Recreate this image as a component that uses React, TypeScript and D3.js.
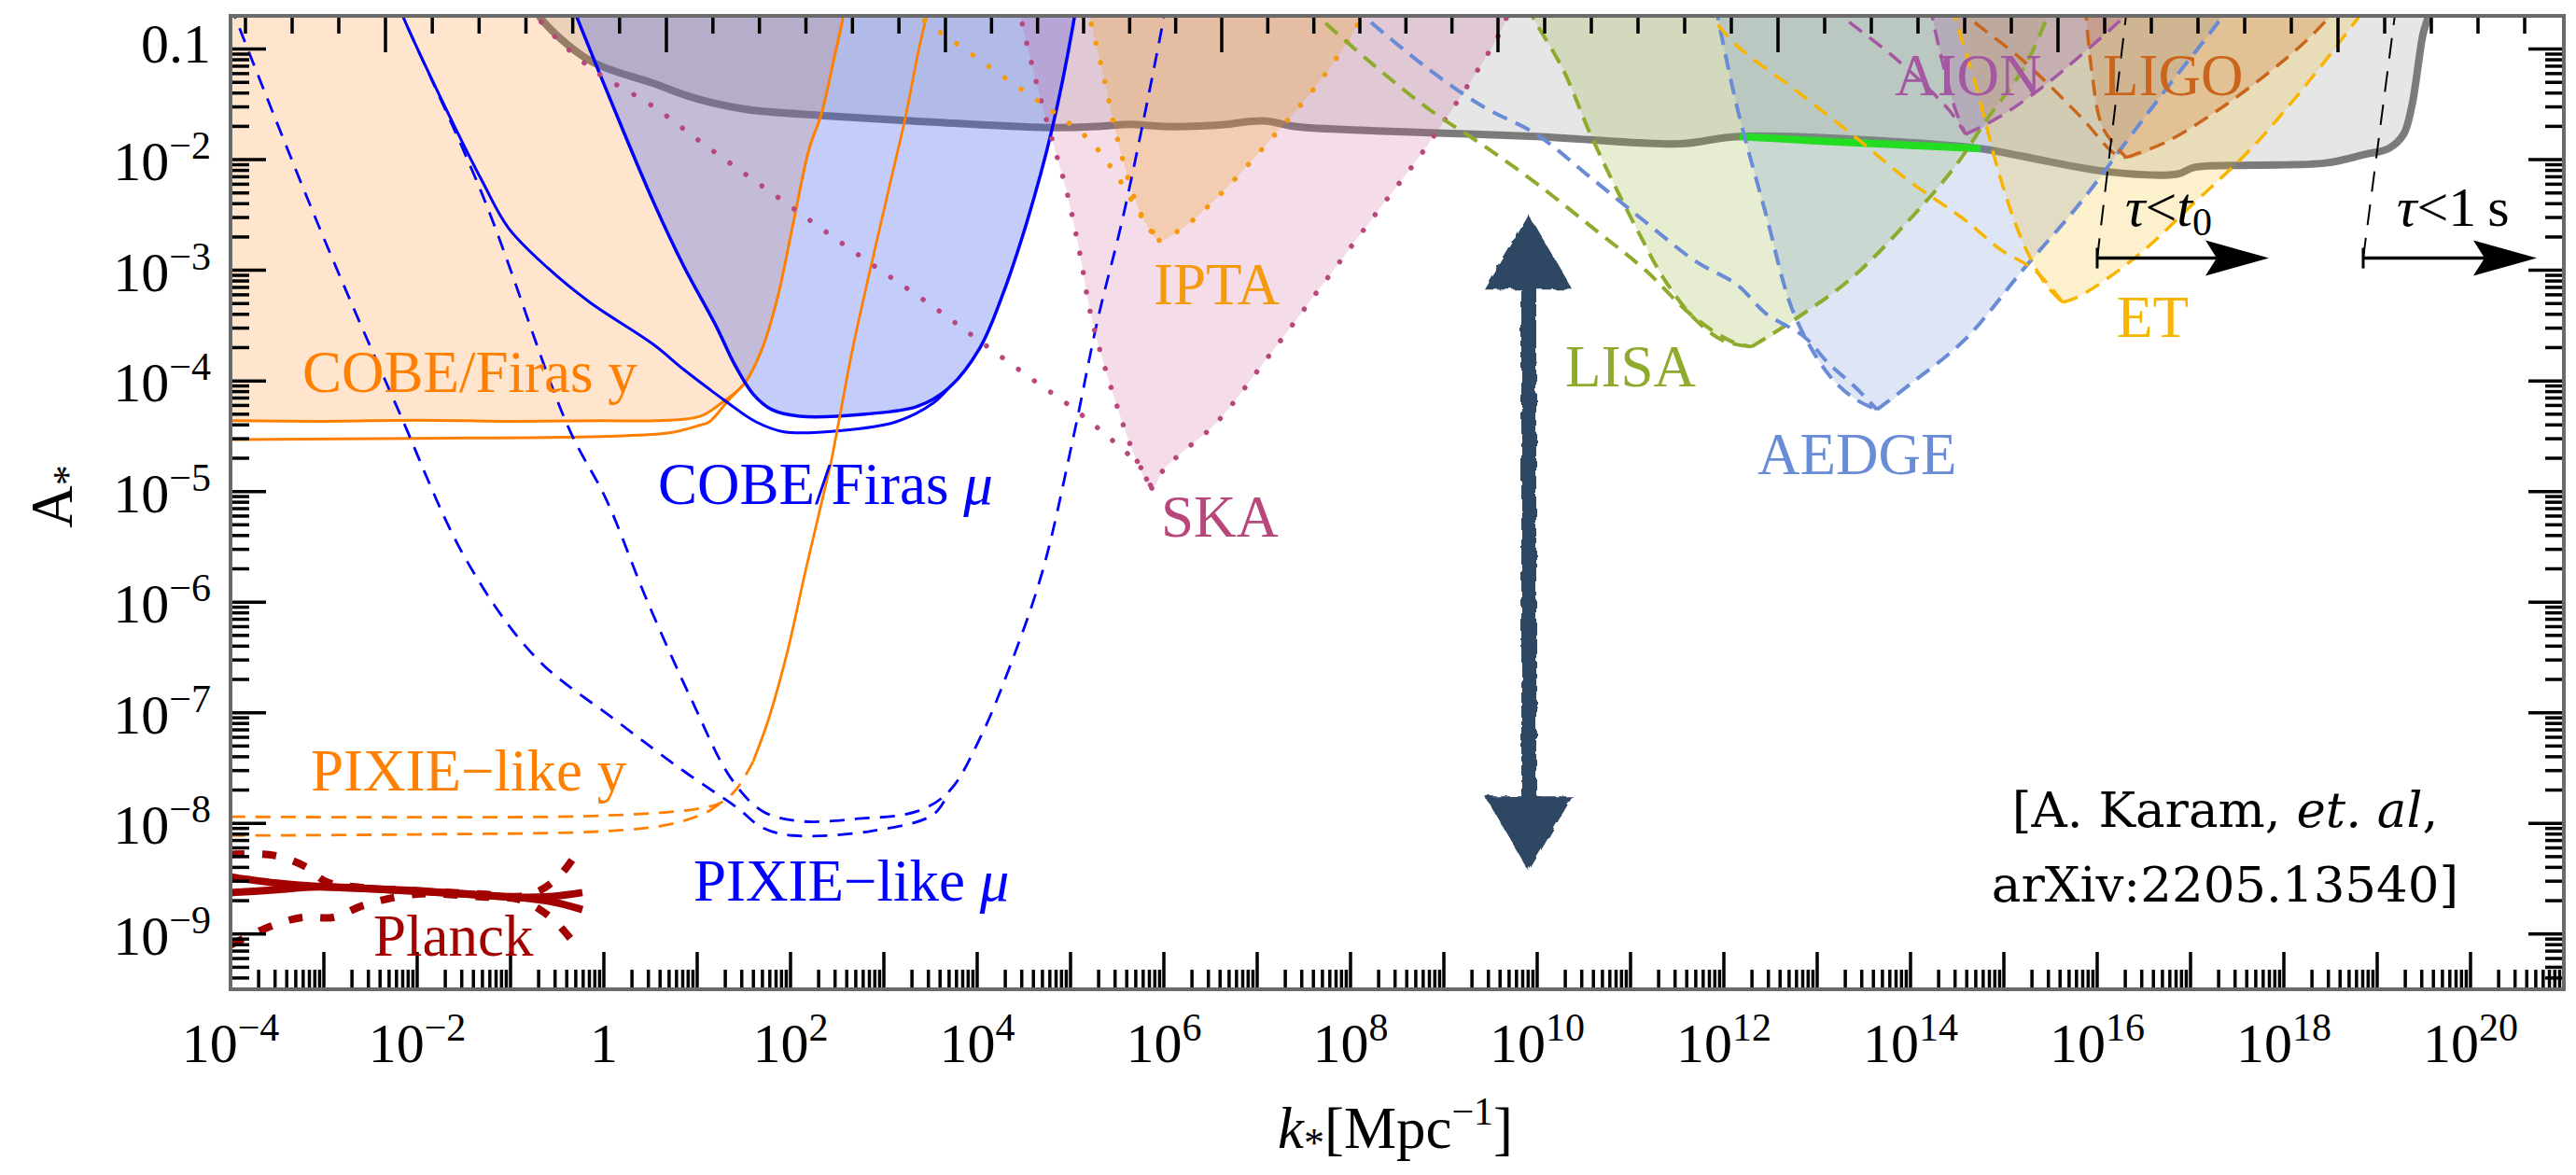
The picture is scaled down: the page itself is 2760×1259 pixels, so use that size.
import React from 'react';
import * as d3 from 'd3';

type P = [number, number];

// all curves are [log10 k, log10 A] pairs

const grayBound: P[] = [[-0.72, -0.6], [-0.70, -0.69], [-0.16, -1.10], [0.53, -1.31], [1.0, -1.45], [1.53, -1.546], [2.33, -1.60], [3.2, -1.645], [4.77, -1.71], [5.3, -1.70], [5.63, -1.68], [6.0, -1.70], [6.55, -1.69], [7.07, -1.65], [7.4, -1.70], [8.27, -1.74], [9.99, -1.79], [11.53, -1.856], [12.17, -1.79], [14.75, -1.90], [15.2, -1.97], [16.12, -2.11], [16.86, -2.13], [17.04, -2.07], [17.65, -2.05], [18.45, -2.03], [18.88, -1.95], [19.12, -1.90], [19.28, -1.775], [19.37, -1.52], [19.49, -0.87], [19.55, -0.69], [19.56, -0.6]];
const greenBound: P[] = [[12.17, -1.79], [13.0, -1.83], [14.0, -1.87], [14.75, -1.90]];

const cobeYUpper: P[] = [[-4, -4.36], [-3, -4.365], [-2, -4.355], [-1, -4.365], [0, -4.36], [0.53, -4.36], [1.03, -4.32], [1.26, -4.20], [1.50, -4.03], [1.70, -3.70], [1.86, -3.25], [2.03, -2.57], [2.20, -1.90], [2.33, -1.59], [2.46, -1.11], [2.56, -0.72], [2.58, -0.6]];
const cobeYLower: P[] = [[-4, -4.53], [-2, -4.52], [0.03, -4.50], [0.70, -4.47], [1.03, -4.40], [1.13, -4.37], [1.33, -4.18], [1.50, -4.03]];

const cobeMuU: P[] = [[-0.34, -0.6], [-0.30, -0.69], [0.1, -1.52], [0.53, -2.38], [0.86, -2.97], [1.20, -3.50], [1.40, -3.85], [1.60, -4.12], [1.80, -4.26], [2.10, -4.32], [2.80, -4.30], [3.36, -4.23], [3.70, -4.06], [4.03, -3.70], [4.26, -3.25], [4.53, -2.57], [4.80, -1.73], [5.03, -0.77], [5.06, -0.6]];
const cobeMuLower: P[] = [[-2.2, -0.6], [-2.16, -0.69], [-1.76, -1.42], [-1.30, -2.20], [-1.02, -2.62], [-0.60, -2.98], [-0.15, -3.29], [0.53, -3.67], [0.86, -3.90], [1.30, -4.18], [1.63, -4.37], [1.93, -4.46], [2.53, -4.45], [3.13, -4.37], [3.53, -4.20], [3.72, -4.04]];

const pixieMuA: P[] = [[-2.2, -0.6], [-2.16, -0.69], [-1.30, -2.32], [-0.38, -4.42], [0.03, -5.08], [0.46, -5.98], [0.96, -6.92], [1.36, -7.59], [1.70, -7.89], [2.10, -7.98], [2.70, -7.96], [3.36, -7.89], [3.70, -7.71], [4.03, -7.23], [4.36, -6.56], [4.70, -5.72], [5.03, -4.51], [5.29, -3.45], [5.57, -2.49], [6.0, -0.71], [6.02, -0.6]];
const pixieMuB: P[] = [[-4.0, -0.6], [-3.96, -0.69], [-3.03, -2.65], [-2.22, -4.23], [-1.48, -5.61], [-0.73, -6.50], [0.13, -7.07], [0.86, -7.53], [1.43, -7.86], [1.70, -8.04], [2.03, -8.11], [2.86, -8.07], [3.53, -7.92], [3.70, -7.71]];

const pixieYUpper: P[] = [[-4, -7.94], [-2, -7.945], [0, -7.93], [0.99, -7.87], [1.26, -7.81], [1.43, -7.68], [1.60, -7.44]];
const pixieYRise: P[] = [[1.60, -7.44], [1.76, -7.07], [1.96, -6.47], [2.16, -5.72], [2.33, -5.11], [2.43, -4.75], [2.53, -4.31], [2.66, -3.73], [2.86, -2.97], [3.06, -2.24], [3.23, -1.62], [3.38, -0.98], [3.46, -0.69], [3.48, -0.6]];
const pixieYLower: P[] = [[-4, -8.11], [-2, -8.10], [0.03, -8.07], [0.70, -8.01], [1.10, -7.90], [1.26, -7.81]];

const planckA: P[] = [[-4, -8.485], [-3.5, -8.54], [-3.07, -8.57], [-2, -8.61], [-0.90, -8.668], [-0.55, -8.66], [-0.23, -8.626]];
const planckB: P[] = [[-4, -8.626], [-3.5, -8.60], [-3.07, -8.575], [-2, -8.615], [-0.90, -8.672], [-0.55, -8.71], [-0.23, -8.78]];
const planckDashU: P[] = [[-4, -8.28], [-3.53, -8.29], [-3.20, -8.39], [-2.97, -8.53], [-2.6, -8.58], [-2, -8.61], [-1.3, -8.64], [-0.90, -8.66], [-0.67, -8.60], [-0.45, -8.45], [-0.27, -8.24]];
const planckDashN: P[] = [[-4, -9.10], [-3.57, -8.93], [-3.23, -8.85], [-2.90, -8.85], [-2.57, -8.74], [-2, -8.64], [-1.3, -8.665], [-0.90, -8.69], [-0.57, -8.85], [-0.30, -9.10], [-0.25, -9.15]];

const skaShallow: P[] = [[-0.76, -0.6], [-0.73, -0.69], [-0.16, -1.16], [0.53, -1.52], [1.07, -1.86], [1.83, -2.32], [2.76, -2.88], [3.53, -3.33], [4.06, -3.66], [4.63, -4.01], [5.0, -4.23], [5.34, -4.46], [5.75, -4.78], [5.87, -4.97]];
const skaSteep: P[] = [[4.44, -0.6], [4.46, -0.69], [4.66, -1.39], [4.83, -1.90], [4.96, -2.29], [5.10, -2.85], [5.23, -3.45], [5.51, -4.26], [5.70, -4.70], [5.87, -4.97]];
const skaRight: P[] = [[5.87, -4.97], [6.0, -4.80], [6.19, -4.65], [6.55, -4.39], [7.12, -3.78], [7.70, -3.13], [8.27, -2.49], [8.85, -1.84], [9.59, -0.87], [9.68, -0.69], [9.70, -0.6]];

const iptaShallow: P[] = [[3.32, -0.6], [3.37, -0.69], [3.93, -1.04], [4.50, -1.38], [4.87, -1.60], [5.20, -1.82], [5.50, -2.15], [5.75, -2.50], [5.95, -2.73]];
const iptaSteep: P[] = [[5.18, -0.6], [5.20, -0.69], [5.34, -1.19], [5.51, -1.84], [5.69, -2.36], [5.83, -2.61], [5.95, -2.73]];
const iptaRight: P[] = [[5.95, -2.73], [6.20, -2.62], [6.55, -2.36], [7.12, -1.84], [7.70, -1.26], [8.10, -0.74], [8.16, -0.6]];

const lisaShallow: P[] = [[7.55, -0.6], [7.64, -0.69], [8.27, -1.16], [8.85, -1.55], [9.42, -1.87], [10.0, -2.22], [10.63, -2.64], [11.16, -3.0], [11.66, -3.41], [12.10, -3.65], [12.30, -3.69]];
const lisaSteep: P[] = [[9.90, -0.6], [9.94, -0.69], [10.28, -1.19], [10.57, -1.77], [10.84, -2.25], [11.10, -2.68], [11.36, -3.08], [11.70, -3.45], [12.0, -3.64], [12.30, -3.69]];
const lisaRight: P[] = [[12.30, -3.69], [12.75, -3.45], [13.37, -3.07], [13.98, -2.55], [14.47, -2.07], [14.84, -1.61], [15.2, -1.19], [15.45, -0.74], [15.5, -0.6]];

const aedgeShallow: P[] = [[8.03, -0.6], [8.13, -0.69], [8.85, -1.19], [9.42, -1.52], [9.99, -1.77], [10.57, -2.16], [11.14, -2.55], [11.70, -2.92], [12.14, -3.13], [12.45, -3.39], [12.86, -3.60], [13.12, -3.84], [13.40, -4.05], [13.64, -4.26]];
const aedgeSteep: P[] = [[11.91, -0.6], [11.93, -0.69], [12.14, -1.52], [12.45, -2.49], [12.75, -3.39], [13.12, -3.94], [13.40, -4.16], [13.64, -4.26]];
const aedgeRight: P[] = [[13.64, -4.26], [13.98, -4.04], [14.59, -3.62], [15.2, -3.0], [15.82, -2.39], [16.31, -1.84], [16.74, -1.36], [17.35, -0.69], [17.4, -0.6]];

const etShallow: P[] = [[11.77, -0.6], [11.85, -0.69], [12.14, -0.97], [12.75, -1.36], [13.37, -1.77], [13.98, -2.19], [14.59, -2.55], [14.96, -2.81], [15.33, -3.0], [15.63, -3.29]];
const etSteep: P[] = [[14.45, -0.6], [14.47, -0.69], [14.71, -1.36], [14.96, -2.16], [15.20, -2.74], [15.45, -3.13], [15.63, -3.29]];
const etRight: P[] = [[15.63, -3.29], [15.82, -3.23], [16.43, -2.87], [17.04, -2.39], [17.65, -1.90], [18.27, -1.29], [18.82, -0.69], [18.9, -0.6]];

const aionShallow: P[] = [[13.15, -0.6], [13.25, -0.69], [13.86, -1.10], [14.41, -1.55], [14.59, -1.77]];
const aionSteep: P[] = [[14.22, -0.6], [14.23, -0.69], [14.47, -1.52], [14.59, -1.77]];
const aionRight: P[] = [[14.59, -1.77], [14.96, -1.61], [15.45, -1.32], [15.82, -1.06], [16.31, -0.69], [16.4, -0.6]];

const ligoShallow: P[] = [[14.5, -0.6], [14.59, -0.69], [15.2, -1.10], [15.82, -1.61], [16.18, -1.94], [16.31, -1.98]];
const ligoSteep: P[] = [[15.87, -0.6], [15.88, -0.69], [15.94, -1.19], [16.06, -1.71], [16.31, -1.98]];
const ligoRight: P[] = [[16.31, -1.98], [16.74, -1.84], [17.35, -1.52], [17.96, -1.13], [18.27, -0.90], [18.51, -0.69], [18.6, -0.6]];

// lifetime markers: dashed guide from the top down to the arrow
const tauT0Guide: P[] = [[16.33, -0.6], [16.31, -0.69], [16.0, -2.89]];
const tau1sGuide: P[] = [[19.21, -0.6], [19.19, -0.69], [18.85, -2.89]];
const tauT0Arrow: P = [16.0, 17.84];
const tau1sArrow: P = [18.85, 20.71];
const tauArrowLevel = -2.89;

// double arrow (log k, top log A, bottom log A)
const bigArrow = { k: 9.91, top: -2.5, bottom: -8.43 };

// axis ticks
const yLabelPowers = [-9, -8, -7, -6, -5, -4, -3, -2, -1];
const xLabelPowers = [-4, -2, 0, 2, 4, 6, 8, 10, 12, 14, 16, 18, 20];
const topLongTicks = [-2.34, 0.67, 3.66, 6.62, 9.58, 12.58, 15.58, 18.58];

// label anchors: [log k, log A]
const labels = {
  cobeY: [-3.23, -4.10],
  cobeMu: [0.58, -5.11],
  pixieY: [-3.14, -7.70],
  pixieMu: [0.96, -8.70],
  planck: [-2.47, -9.20],
  ska: [5.97, -5.41],
  ipta: [5.89, -3.31],
  lisa: [10.30, -4.05],
  aedge: [12.36, -4.84],
  aion: [13.83, -1.42],
  ligo: [16.06, -1.42],
  et: [16.21, -3.60],
  tauT0: [16.30, -2.60],
  tau1s: [19.21, -2.60],
  cite: [17.37, -8.03],
};

const C = {
  orange: '#ff7f00',
  blue: '#0000ff',
  ska: '#b8477c',
  ipta: '#f59a0c',
  lisa: '#8eab2e',
  aedge: '#6a8bd6',
  et: '#f7b500',
  aion: '#a558a2',
  ligo: '#c9661c',
  planck: '#a30000',
  arrow: '#2f4662',
};

const SERIF = '"Liberation Serif", "Times New Roman", serif';

export default function App() {
  const x = d3.scaleLog().domain([1e-4, 1e21]).range([247, 2747]);
  const y = d3.scaleLog().domain([10 ** -9.5, 10 ** -0.7]).range([1060, 17]);
  const X = (v: number) => x(10 ** v);
  const Y = (v: number) => y(10 ** v);
  const line = d3.line<P>().x(d => X(d[0])).y(d => Y(d[1])).curve(d3.curveCatmullRom.alpha(0.5));
  const plain = d3.line<P>().x(d => X(d[0])).y(d => Y(d[1]));

  const vRegion = (left: P[], right: P[]) => line([...left, ...right.slice(1)]) + 'Z';

  const [x0, x1] = x.range();
  const [y0, y1] = [y.range()[1], y.range()[0]];

  const cobeYFill = `M${x0},${y0 - 5}L${x0},${Y(cobeYUpper[0][1])}` + line(cobeYUpper)!.replace(/^M/, 'L') + 'Z';

  // ticks
  const yMinor: number[] = [];
  d3.range(-10, 0).forEach(n => d3.range(2, 10).forEach(m => {
    const v = n + Math.log10(m);
    if (v > -9.5 && v < -0.7) yMinor.push(v);
  }));
  const yMajor = d3.range(-9, 0);
  const xMinor: number[] = [];
  d3.range(-4, 21).forEach(n => d3.range(2, 10).forEach(m => xMinor.push(n + Math.log10(m))));
  const xMajor = d3.range(-4, 21);
  const topShort: number[] = [];
  for (let i = 0; i < topLongTicks.length - 1; i++) {
    const a = topLongTicks[i], b = topLongTicks[i + 1];
    for (let j = 1; j < 6; j++) topShort.push(a + (b - a) * j / 6);
  }
  [1, 2, 3].forEach(j => topShort.push(topLongTicks[0] - 0.5 * j));
  [1, 2, 3, 4].forEach(j => topShort.push(topLongTicks[topLongTicks.length - 1] + 0.5 * j));

  const tk = { stroke: '#000', strokeWidth: 3.5 };

  const ax = X(bigArrow.k), aT = Y(bigArrow.top), aB = Y(bigArrow.bottom);
  const hh = 80, hw = 47, sw = 8;
  const arrowPath = `M${ax},${aT}L${ax + hw},${aT + hh}L${ax + sw},${aT + hh}L${ax + sw},${aB - hh}L${ax + hw},${aB - hh}L${ax},${aB}L${ax - hw},${aB - hh}L${ax - sw},${aB - hh}L${ax - sw},${aT + hh}L${ax - hw},${aT + hh}Z`;

  const tauArrow = (seg: P, key: string) => {
    const xs = X(seg[0]), xe = X(seg[1]), yy = Y(tauArrowLevel);
    return (
      <g key={key}>
        <line x1={xs} x2={xe - 40} y1={yy} y2={yy} stroke="#000" strokeWidth={3.5} />
        <line x1={xs} x2={xs} y1={yy - 11} y2={yy + 11} stroke="#000" strokeWidth={3} />
        <path d={`M${xe},${yy}L${xe - 68},${yy - 19}L${xe - 56},${yy}L${xe - 68},${yy + 19}Z`} fill="#000" />
      </g>
    );
  };

  const dotted = { fill: 'none', strokeWidth: 5.5, strokeLinecap: 'round' as const, strokeDasharray: '0.1 21' };
  const dashed = (c: string, w = 3.5, da = '17 10') => ({ fill: 'none', stroke: c, strokeWidth: w, strokeDasharray: da });

  const L = (k: keyof typeof labels) => ({ x: X(labels[k][0]), y: Y(labels[k][1]) });

  return (
    <div style={{ position: 'absolute', left: 0, top: 0, background: '#fff' }}>
      <svg width={2760} height={1259} fontFamily={SERIF} style={{ display: 'block' }}>
        <defs>
          <clipPath id="plot"><rect x={x0} y={y0} width={x1 - x0} height={y1 - y0} /></clipPath>
          <filter id="rough" x="-20%" y="-5%" width="140%" height="110%">
            <feTurbulence type="fractalNoise" baseFrequency="0.09" numOctaves={2} seed={4} result="n" />
            <feDisplacementMap in="SourceGraphic" in2="n" scale={6} />
          </filter>
        </defs>
        <rect width={2760} height={1259} fill="#fff" />

        <g clipPath="url(#plot)">
          {/* gray bound */}
          <path d={line(grayBound)! + 'Z'} fill="#8c8c8c" fillOpacity={0.22} />
          <path d={line(grayBound)!} fill="none" stroke="#6e6e6e" strokeOpacity={0.9} strokeWidth={8} />

          {/* filled regions */}
          <path d={cobeYFill} fill="#ff8a1f" fillOpacity={0.22} />
          <path d={line(cobeMuU)! + 'Z'} fill="#3c5af0" fillOpacity={0.3} />
          <path d={vRegion(skaSteep, skaRight)} fill="#c8508a" fillOpacity={0.2} />
          <path d={vRegion(iptaSteep, iptaRight)} fill={C.ipta} fillOpacity={0.25} />
          <path d={vRegion(lisaSteep, lisaRight)} fill={C.lisa} fillOpacity={0.22} />
          <path d={vRegion(aedgeSteep, aedgeRight)} fill={C.aedge} fillOpacity={0.22} />
          <path d={vRegion(etSteep, etRight)} fill={C.et} fillOpacity={0.2} />
          <path d={vRegion(aionSteep, aionRight)} fill={C.aion} fillOpacity={0.25} />
          <path d={vRegion(ligoSteep, ligoRight)} fill={C.ligo} fillOpacity={0.22} />

          <path d={line(greenBound)!} fill="none" stroke="#22dd22" strokeWidth={8} />

          {/* CMB spectral distortions */}
          <path d={line(cobeYUpper)!} fill="none" stroke={C.orange} strokeWidth={3} />
          <path d={line(cobeYLower)!} fill="none" stroke={C.orange} strokeWidth={3} />
          <path d={line(cobeMuU)!} fill="none" stroke={C.blue} strokeWidth={3.5} />
          <path d={line(cobeMuLower)!} fill="none" stroke={C.blue} strokeWidth={3} />
          <path d={line(pixieMuA)!} {...dashed(C.blue, 2.8, '16 11')} />
          <path d={line(pixieMuB)!} {...dashed(C.blue, 2.8, '16 11')} />
          <path d={line(pixieYUpper)!} {...dashed(C.orange, 2.8, '16 11')} />
          <path d={line(pixieYLower)!} {...dashed(C.orange, 2.8, '16 11')} />
          <path d={line(pixieYRise)!} fill="none" stroke={C.orange} strokeWidth={2.8} />

          {/* Planck */}
          <path d={line(planckA)!} fill="none" stroke={C.planck} strokeWidth={8} />
          <path d={line(planckB)!} fill="none" stroke={C.planck} strokeWidth={8} />
          <path d={line(planckDashU)!} {...dashed(C.planck, 8, '15 19')} />
          <path d={line(planckDashN)!} {...dashed(C.planck, 8, '15 19')} />

          {/* GW experiments */}
          <path d={line(skaShallow)!} {...dotted} stroke={C.ska} />
          <path d={line(skaSteep)!} {...dotted} stroke={C.ska} />
          <path d={line(skaRight)!} {...dotted} stroke={C.ska} />
          <path d={line(iptaShallow)!} {...dotted} stroke={C.ipta} />
          <path d={line(iptaSteep)!} {...dotted} stroke={C.ipta} />
          <path d={line(iptaRight)!} {...dotted} stroke={C.ipta} />
          <path d={line(lisaShallow)!} {...dashed(C.lisa, 4)} />
          <path d={line(lisaSteep)!} {...dashed(C.lisa, 4)} />
          <path d={line(lisaRight)!} {...dashed(C.lisa, 4)} />
          <path d={line(aedgeShallow)!} {...dashed(C.aedge, 4)} />
          <path d={line(aedgeSteep)!} {...dashed(C.aedge, 4)} />
          <path d={line(aedgeRight)!} {...dashed(C.aedge, 4)} />
          <path d={line(etShallow)!} {...dashed(C.et, 3.5)} />
          <path d={line(etSteep)!} {...dashed(C.et, 3.5)} />
          <path d={line(etRight)!} {...dashed(C.et, 3.5)} />
          <path d={line(aionShallow)!} {...dashed(C.aion, 3.5)} />
          <path d={line(aionSteep)!} {...dashed(C.aion, 3.5)} />
          <path d={line(aionRight)!} {...dashed(C.aion, 3.5)} />
          <path d={line(ligoShallow)!} {...dashed(C.ligo, 3.5)} />
          <path d={line(ligoSteep)!} {...dashed(C.ligo, 3.5)} />
          <path d={line(ligoRight)!} {...dashed(C.ligo, 3.5)} />

          {/* lifetime markers */}
          <path d={plain(tauT0Guide)!} {...dashed('#000', 2, '22 14')} />
          <path d={plain(tau1sGuide)!} {...dashed('#000', 2, '22 14')} />
          {tauArrow(tauT0Arrow, 't0')}
          {tauArrow(tau1sArrow, 't1')}

          <path d={arrowPath} fill={C.arrow} filter="url(#rough)" />
        </g>

        {/* ticks */}
        {yMajor.map(v => (
          <g key={'ym' + v}>
            <line x1={x0} x2={x0 + 38} y1={Y(v)} y2={Y(v)} {...tk} />
            <line x1={x1} x2={x1 - 38} y1={Y(v)} y2={Y(v)} {...tk} />
          </g>
        ))}
        {yMinor.map(v => (
          <g key={'yn' + v}>
            <line x1={x0} x2={x0 + 20} y1={Y(v)} y2={Y(v)} {...tk} />
            <line x1={x1} x2={x1 - 20} y1={Y(v)} y2={Y(v)} {...tk} />
          </g>
        ))}
        {xMajor.map(v => <line key={'xm' + v} x1={X(v)} x2={X(v)} y1={y1} y2={y1 - 40} {...tk} />)}
        {xMinor.map(v => <line key={'xn' + v} x1={X(v)} x2={X(v)} y1={y1} y2={y1 - 21} {...tk} />)}
        {topLongTicks.map(v => <line key={'tl' + v} x1={X(v)} x2={X(v)} y1={y0} y2={y0 + 39} {...tk} />)}
        {topShort.map(v => <line key={'ts' + v} x1={X(v)} x2={X(v)} y1={y0} y2={y0 + 19} {...tk} />)}

        <rect x={x0} y={y0} width={x1 - x0} height={y1 - y0} fill="none" stroke="#6a6a6a" strokeWidth={4} />

        {/* tick labels */}
        {yLabelPowers.map(n => n === -1 ? (
          <text key={'yl' + n} x={226} y={Y(n) + 14} fontSize={60} textAnchor="end">0.1</text>
        ) : (
          <text key={'yl' + n} x={226} y={Y(n) + 22} fontSize={60} textAnchor="end">10<tspan dy={-23} fontSize={42}>{'\u2212' + Math.abs(n)}</tspan></text>
        ))}
        {xLabelPowers.map(n => n === 0 ? (
          <text key={'xl' + n} x={X(n)} y={1138} fontSize={60} textAnchor="middle">1</text>
        ) : (
          <text key={'xl' + n} x={X(n)} y={1138} fontSize={60} textAnchor="middle">10<tspan dy={-23} fontSize={42}>{(n < 0 ? '\u2212' : '') + Math.abs(n)}</tspan></text>
        ))}

        {/* axis titles */}
        <text transform="translate(77,532) rotate(-90)" fontSize={63} textAnchor="middle">A<tspan dy={10} fontSize={44}>*</tspan></text>
        <text x={1495} y={1230} fontSize={63} textAnchor="middle"><tspan fontStyle="italic">k</tspan><tspan dy={9} fontSize={44}>*</tspan><tspan dy={-9}>[Mpc</tspan><tspan dy={-25} fontSize={42}>{'\u22121'}</tspan><tspan dy={25}>]</tspan></text>

        {/* curve labels */}
        <g fontSize={63}>
          <text {...L('cobeY')} fill={C.orange}>COBE/Firas y</text>
          <text {...L('cobeMu')} fill={C.blue}>COBE/Firas <tspan fontStyle="italic">μ</tspan></text>
          <text {...L('pixieY')} fill={C.orange}>PIXIE{'\u2212'}like y</text>
          <text {...L('pixieMu')} fill={C.blue}>PIXIE{'\u2212'}like <tspan fontStyle="italic">μ</tspan></text>
          <text {...L('planck')} fill={C.planck}>Planck</text>
          <text {...L('ska')} fill={C.ska}>SKA</text>
          <text {...L('ipta')} fill={C.ipta}>IPTA</text>
          <text {...L('lisa')} fill={C.lisa}>LISA</text>
          <text {...L('aedge')} fill={C.aedge}>AEDGE</text>
          <text {...L('aion')} fill={C.aion}>AION</text>
          <text {...L('ligo')} fill={C.ligo}>LIGO</text>
          <text {...L('et')} fill={C.et}>ET</text>
          <text {...L('tauT0')} fontSize={60}><tspan fontStyle="italic">τ</tspan>{'<'}<tspan fontStyle="italic">t</tspan><tspan dy={10} fontSize={42}>0</tspan></text>
          <text {...L('tau1s')} fontSize={60}><tspan fontStyle="italic">τ</tspan>{'<1\u2009s'}</text>
        </g>
        <g fontFamily='"DejaVu Serif", serif' fontSize={53} textAnchor="middle">
          <text x={L('cite').x} y={L('cite').y}>[A. Karam, <tspan fontStyle="italic">et. al</tspan>,</text>
          <text x={L('cite').x} y={L('cite').y + 80}>arXiv:2205.13540]</text>
        </g>
      </svg>
    </div>
  );
}
